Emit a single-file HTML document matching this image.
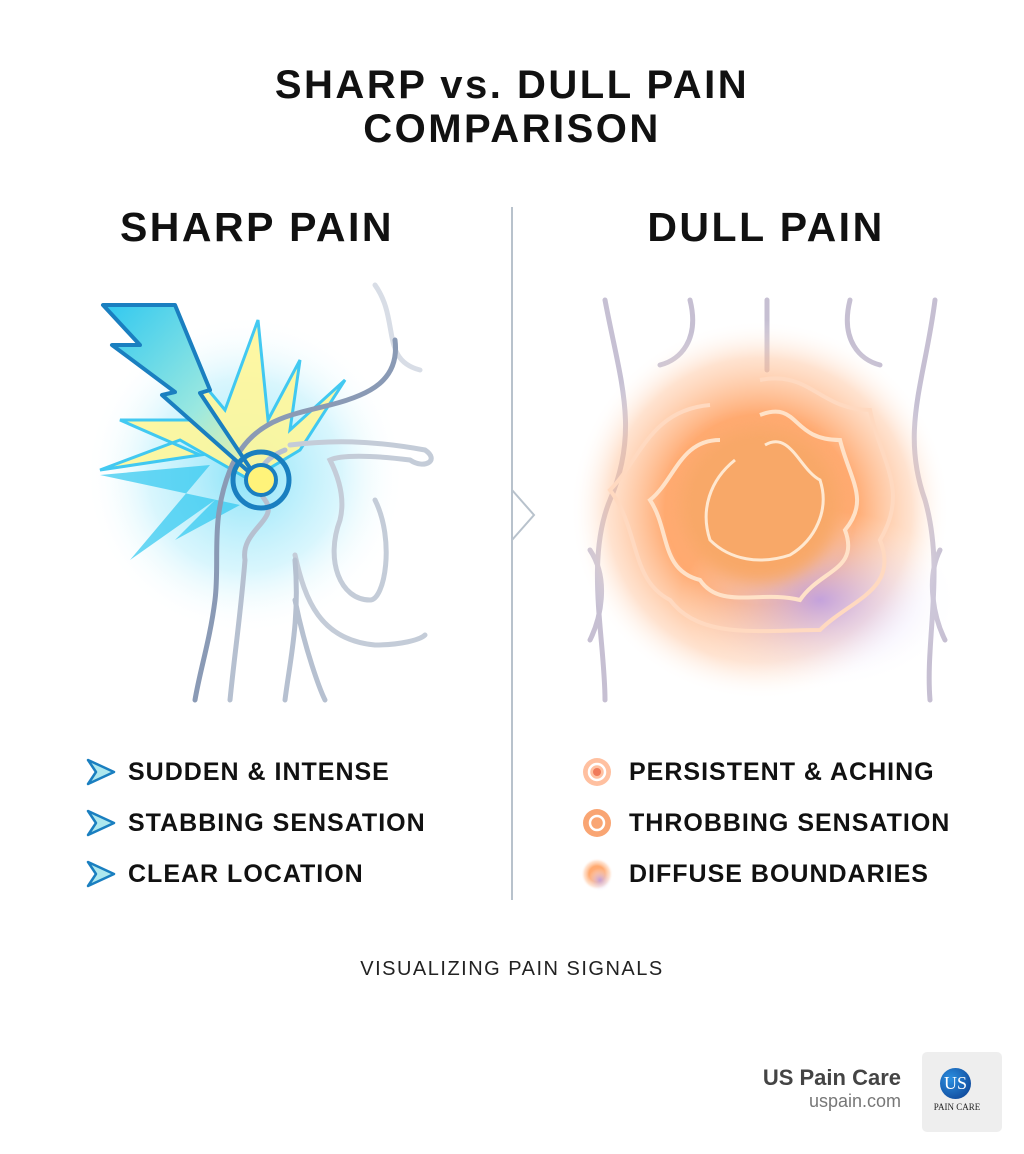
<!DOCTYPE html>
<html><head><meta charset="utf-8"><style>
body{margin:0;width:1024px;height:1154px;background:#fff;position:relative;overflow:hidden;font-family:"Liberation Sans","DejaVu Sans",sans-serif;}
.t{position:absolute;left:0;width:1024px;text-align:center;font-weight:900;font-size:40px;letter-spacing:2.5px;color:#111;}
.h{position:absolute;font-weight:900;font-size:41px;letter-spacing:2.5px;color:#111;text-align:center;width:400px;}
.li{position:absolute;font-weight:bold;font-size:25px;color:#111;letter-spacing:1px;}
</style></head><body>
<div class="t" style="top:63px">SHARP vs. DULL PAIN</div>
<div class="t" style="top:107px">COMPARISON</div>
<div class="h" style="left:57px;top:204px">SHARP PAIN</div>
<div class="h" style="left:566px;top:204px">DULL PAIN</div>
<svg width="1024" height="1154" style="position:absolute;left:0;top:0">
<defs>
<radialGradient id="bg1"><stop offset="0" stop-color="#7fe0f8" stop-opacity=".9"/><stop offset=".6" stop-color="#bff0fc" stop-opacity=".6"/><stop offset="1" stop-color="#fff" stop-opacity="0"/></radialGradient>
<radialGradient id="og"><stop offset="0" stop-color="#ffb080"/><stop offset=".5" stop-color="#ffa060" stop-opacity=".9"/><stop offset=".8" stop-color="#ffc6a0" stop-opacity=".5"/><stop offset="1" stop-color="#fff" stop-opacity="0"/></radialGradient>
<radialGradient id="pg"><stop offset="0" stop-color="#b59cf0" stop-opacity=".8"/><stop offset="1" stop-color="#fff" stop-opacity="0"/></radialGradient>
<linearGradient id="bolt" x1="0" y1="0" x2="1" y2="1"><stop offset="0" stop-color="#30c8f0"/><stop offset=".6" stop-color="#9ae8e0"/><stop offset="1" stop-color="#fff59a"/></linearGradient>
<filter id="bl"><feGaussianBlur stdDeviation="8"/></filter>
</defs>
<line x1="512" y1="207" x2="512" y2="900" stroke="#b8c2cc" stroke-width="2"/>
<polyline points="512,490 534,515 512,540" fill="none" stroke="#b8c2cc" stroke-width="2"/>
<circle cx="245" cy="475" r="160" fill="url(#bg1)"/>
<polygon points="258,320 268,420 300,360 290,430 345,380 300,450 250,480 180,440 100,470 200,455 120,420 210,420 175,350 225,410" fill="#fff79a" stroke="#30c4f0" stroke-width="3" opacity=".9"/>
<polygon points="100,475 210,465 130,560 215,500 175,540 240,505" fill="#2fc8f0" opacity=".7"/>
<g fill="none" stroke="#8fa0b8" stroke-width="5" stroke-linecap="round">
<path d="M375,285 C400,320 380,360 420,370 440,372 450,370" stroke="#d8dde6"/>
<path d="M395,340 C400,380 370,395 330,405 290,415 250,420 230,470 210,520 220,560 215,600 210,640 200,670 195,700" stroke="#8a9ab5"/>
<path d="M285,450 C260,460 250,480 265,500 C280,520 240,530 245,560 240,620 235,650 230,700" stroke="#b6c0d0"/>
<path d="M290,445 C330,440 370,440 425,450 440,460 425,470 410,460 C370,455 340,455 330,460 C340,480 345,500 340,520 325,560 340,600 370,600 385,600 395,540 375,500 350,470" stroke="#c4ccd8"/>
<path d="M295,555 C305,600 320,640 375,645 C400,645 420,640 425,635" stroke="#c4ccd8"/>
<path d="M295,560 C300,620 290,660 285,700 M295,600 C305,650 320,690 325,700" stroke="#b6c0d0"/>
</g>
<polygon points="103,305 175,305 210,390 200,393 258,480 162,395 175,392 112,345 140,345" fill="url(#bolt)" stroke="#1a7fc0" stroke-width="4" stroke-linejoin="round"/>
<circle cx="261" cy="480" r="28" fill="none" stroke="#1a7fc0" stroke-width="5"/>
<circle cx="261" cy="480" r="15" fill="#fff37a" stroke="#1a7fc0" stroke-width="4"/>
<g fill="none" stroke="#b8b0c8" stroke-width="5" stroke-linecap="round" opacity=".8">
<path d="M605,300 C620,380 640,430 610,500 585,560 605,640 605,700"/>
<path d="M935,300 C925,380 900,430 925,500 945,570 925,640 930,700"/>
<path d="M690,300 C700,340 680,360 660,365 M850,300 C840,340 860,360 880,365"/>
<path d="M767,300 L767,370"/>
<path d="M590,550 C610,580 600,620 590,640 M940,550 C925,580 935,620 945,640"/>
</g>
<circle cx="760" cy="510" r="190" fill="url(#og)"/>
<ellipse cx="820" cy="600" rx="140" ry="90" fill="url(#pg)"/>
<ellipse cx="760" cy="505" rx="80" ry="78" fill="#f8a868" filter="url(#bl)"/>
<path d="M760,415 C800,400 790,440 840,440 850,480 870,500 845,530 860,570 820,570 800,600 760,590 720,610 700,580 660,570 670,530 650,500 675,480 680,440 720,440 730,410 760,415Z" fill="none" stroke="#ffe2c8" stroke-width="4"/>
<path d="M760,380 C810,370 820,410 870,410 880,460 910,490 880,540 900,590 850,600 820,630 760,630 700,640 670,600 630,580 640,530 610,490 640,460 650,410 710,405 720,380 760,380Z" fill="none" stroke="#ffd9c0" stroke-width="4"/>
<path d="M765,445 C790,430 800,470 820,480 830,510 815,540 790,555 760,565 730,560 710,540 700,510 710,480 735,460 765,445Z" fill="none" stroke="#ffe8d0" stroke-width="3"/>
<g fill="#aee8ee" stroke="#1a7fc0" stroke-width="2.5" stroke-linejoin="round">
<polygon points="88,760 114,772 88,784 96,772"/>
<polygon points="88,811 114,823 88,835 96,823"/>
<polygon points="88,862 114,874 88,886 96,874"/>
</g>
<circle cx="597" cy="772" r="14" fill="#ffb088" opacity=".8"/><circle cx="597" cy="772" r="8" fill="none" stroke="#fff" stroke-width="2.5"/><circle cx="597" cy="772" r="4" fill="#f07a5a"/>
<circle cx="597" cy="823" r="14" fill="#f8955a" opacity=".85"/><circle cx="597" cy="823" r="7" fill="none" stroke="#fff" stroke-width="2.5"/>
<circle cx="597" cy="874" r="16" fill="url(#og)"/><circle cx="600" cy="880" r="12" fill="url(#pg)"/>
</svg>
<div class="li" style="left:128px;top:758px">SUDDEN &amp; INTENSE</div>
<div class="li" style="left:128px;top:809px">STABBING SENSATION</div>
<div class="li" style="left:128px;top:860px">CLEAR LOCATION</div>
<div class="li" style="left:629px;top:758px">PERSISTENT &amp; ACHING</div>
<div class="li" style="left:629px;top:809px">THROBBING SENSATION</div>
<div class="li" style="left:629px;top:860px">DIFFUSE BOUNDARIES</div>
<div style="position:absolute;left:0;width:1024px;top:958px;text-align:center;font-size:20px;color:#222;letter-spacing:1.5px">VISUALIZING PAIN SIGNALS</div>
<div style="position:absolute;right:123px;top:1065px;text-align:right;font-weight:bold;font-size:22px;color:#444">US Pain Care</div>
<div style="position:absolute;right:123px;top:1091px;text-align:right;font-size:18px;color:#777">uspain.com</div>
<div style="position:absolute;left:922px;top:1052px;width:80px;height:80px;background:#eeeeee;border-radius:5px">
<div style="position:absolute;left:18px;top:16px;width:31px;height:31px;border-radius:50%;background:radial-gradient(circle at 35% 35%,#2b8fe0,#0a3a8c);color:#fff;font-family:'Liberation Serif',serif;font-size:18px;line-height:31px;text-align:center">US</div>
<div style="position:absolute;left:0;width:70px;top:50px;text-align:center;font-family:'Liberation Serif',serif;font-size:9px;color:#222">PAIN CARE</div>
</div>
</body></html>
